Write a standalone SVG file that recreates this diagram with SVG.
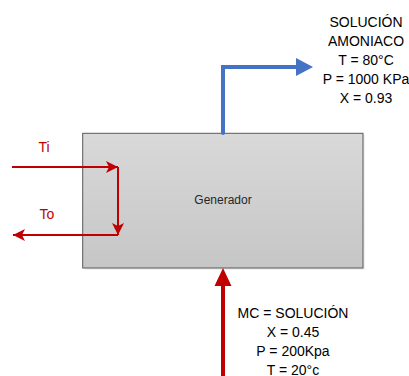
<svg xmlns="http://www.w3.org/2000/svg" width="409" height="376" viewBox="0 0 409 376">
  <style>
    .lbl { font-family: "Liberation Sans", Arial, sans-serif; font-size: 14px; fill: #000; text-anchor: middle; }
    .red { font-family: "Liberation Sans", Arial, sans-serif; font-size: 14px; fill: #c00000; text-anchor: middle; }
    .thin { stroke: #c00000; stroke-width: 2; fill: none; }
  </style>
  <defs>
    <linearGradient id="g" x1="0" y1="0" x2="0" y2="1">
      <stop offset="0" stop-color="#d9d9d9"/>
      <stop offset="1" stop-color="#c6c6c6"/>
    </linearGradient>
    <marker id="ar" markerUnits="userSpaceOnUse" markerWidth="13" markerHeight="12" refX="12" refY="6" orient="auto">
      <path d="M0,0 L12,6 L0,12 L3,6 Z" fill="#c00000"/>
    </marker>
  </defs>
  <g id="generador">
    <rect x="85" y="135" width="280" height="135" fill="#e6e6e6" opacity="0.6"/>
    <rect x="82.7" y="133.3" width="280.3" height="134.7" fill="url(#g)" stroke="#595959" stroke-width="1"/>
    <text x="223" y="204" font-family="'Liberation Sans', Arial, sans-serif" font-size="12" fill="#262626" text-anchor="middle">Generador</text>
  </g>
  <g id="connectors">
    <line class="thin" x1="12" y1="167" x2="118" y2="167" marker-end="url(#ar)"/>
    <polyline class="thin" points="118,167 118,235" marker-end="url(#ar)"/>
    <line class="thin" x1="118" y1="235" x2="13" y2="235" marker-end="url(#ar)"/>
    <polyline points="223,133 223,67 299,67" fill="none" stroke="#4472c4" stroke-width="4" stroke-linecap="round"/>
    <polygon points="296,58 313,67 296,76" fill="#4472c4"/>
    <line x1="223" y1="380" x2="223" y2="283" stroke="#c00000" stroke-width="4"/>
    <polygon points="214.5,286 223,268 231.5,286" fill="#c00000"/>
  </g>
  <g id="labels">
    <text class="red" x="44" y="152">Ti</text>
    <text class="red" x="47" y="219">To</text>
    <text class="lbl" x="366" y="27">SOLUCIÓN</text>
    <text class="lbl" x="366" y="46">AMONIACO</text>
    <text class="lbl" x="366" y="65">T = 80°C</text>
    <text class="lbl" x="366" y="84">P = 1000 KPa</text>
    <text class="lbl" x="366" y="103">X = 0.93</text>
    <text class="lbl" x="293" y="318">MC = SOLUCIÓN</text>
    <text class="lbl" x="293" y="337">X = 0.45</text>
    <text class="lbl" x="293" y="356">P = 200Kpa</text>
    <text class="lbl" x="293" y="375">T = 20°c</text>
  </g>
</svg>
